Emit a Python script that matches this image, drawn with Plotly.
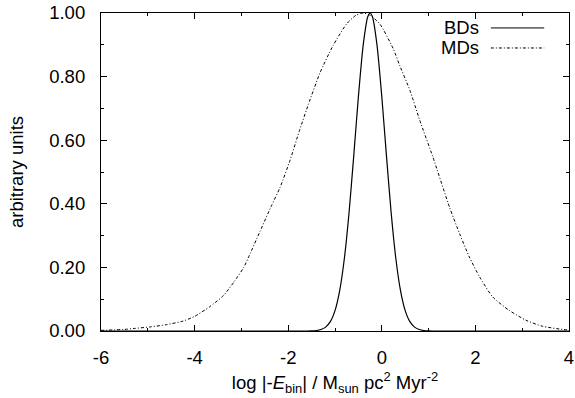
import plotly.graph_objects as go

# BDs curve
bd_x = [-6.0, -1.6, -1.5, -1.4, -1.3, -1.2, -1.1, -1.0, -0.9, -0.8, -0.7, -0.6, -0.5, -0.4, -0.3,
        -0.25, -0.2, -0.1, 0.0, 0.1, 0.2, 0.3, 0.4, 0.5, 0.6, 0.7, 0.8, 0.9, 1.0, 1.1, 4.0]
bd_y = [0.0, 0.0, 0.0005, 0.0016, 0.0046, 0.0122, 0.0293, 0.064, 0.127, 0.228, 0.372, 0.550, 0.737, 0.896, 0.988,
        1.0, 0.988, 0.896, 0.737, 0.550, 0.372, 0.228, 0.127, 0.064, 0.0293, 0.0122, 0.0046, 0.0016, 0.0005, 0.0, 0.0]

# MDs curve
md_x = [-6.0, -5.5, -5.29, -4.94, -4.6, -4.25, -4.0, -3.68, -3.38, -3.16, -2.95, -2.83, -2.6, -2.37,
        -2.17, -1.96, -1.76, -1.57, -1.32, -1.04, -0.75, -0.55, -0.4, -0.25, -0.04, 0.24, 0.38, 0.6,
        0.81, 1.09, 1.45, 1.66, 1.87, 2.09, 2.37, 2.72, 3.08, 3.43, 3.86, 4.0]
md_y = [0.002, 0.005, 0.008, 0.013, 0.02, 0.031, 0.046, 0.076, 0.112, 0.154, 0.20, 0.238, 0.314, 0.39,
        0.453, 0.537, 0.630, 0.712, 0.812, 0.898, 0.966, 0.993, 1.0, 0.993, 0.965, 0.889, 0.836, 0.757,
        0.663, 0.548, 0.388, 0.307, 0.233, 0.17, 0.107, 0.065, 0.034, 0.015, 0.005, 0.003]

x_ticks = [-6, -4, -2, 0, 2, 4]
y_ticks = [0.0, 0.2, 0.4, 0.6, 0.8, 1.0]
series_names = ["BDs", "MDs"]

FONT = "Liberation Sans, Arial, Helvetica, sans-serif"
FS = 18.5

fig = go.Figure()
fig.add_trace(go.Scatter(x=bd_x, y=bd_y, mode="lines", name=series_names[0],
                         line=dict(color="black", width=1.2, shape="spline", smoothing=0.6),
                         showlegend=False))
fig.add_trace(go.Scatter(x=md_x, y=md_y, mode="lines", name=series_names[1],
                         line=dict(color="black", width=1, dash="3px,2px,1px,2px", shape="spline", smoothing=0.6),
                         showlegend=False))

# gnuplot-style legend (text on left, sample on right)
leg_y = [0.953, 0.890]
dashes = ["solid", "3px,2px,1px,2px"]
for i, nm in enumerate(series_names):
    fig.add_annotation(x=0.812, y=leg_y[i], xref="paper", yref="paper", text=nm, showarrow=False,
                       xanchor="right", yanchor="middle", font=dict(size=FS, color="black", family=FONT))
    fig.add_shape(type="line", xref="paper", yref="paper", x0=0.833, x1=0.947, y0=leg_y[i], y1=leg_y[i],
                  line=dict(color="black", width=1, dash=dashes[i]))

axis_common = dict(showline=True, linecolor="black", linewidth=1.2, mirror="ticks", ticks="inside",
                   ticklen=6, tickwidth=1, tickcolor="black", showgrid=False, zeroline=False,
                   automargin=False, tickfont=dict(size=FS, color="black", family=FONT))

fig.update_xaxes(range=[-6, 4], tickvals=x_ticks, ticktext=[str(v) for v in x_ticks],
                 minor=dict(ticks="inside", dtick=1, ticklen=3, tickcolor="black", showgrid=False),
                 ticklabelstandoff=10,
                 title=dict(text="log |-<i>E</i><sub>bin</sub>| / M<sub>sun</sub> pc<sup>2</sup> Myr<sup>-2</sup>",
                            font=dict(size=FS, color="black", family=FONT), standoff=8),
                 **axis_common)
fig.update_yaxes(range=[0, 1], tickvals=y_ticks, ticktext=["%.2f" % v for v in y_ticks],
                 minor=dict(ticks="inside", dtick=0.1, ticklen=3, tickcolor="black", showgrid=False),
                 ticklabelstandoff=11,
                 title=dict(text="arbitrary units", font=dict(size=FS, color="black", family=FONT), standoff=20),
                 **axis_common)

fig.update_layout(width=575, height=398, margin=dict(l=101, r=6, t=13, b=67),
                  paper_bgcolor="white", plot_bgcolor="white", showlegend=False)

fig.write_html("out.html")
